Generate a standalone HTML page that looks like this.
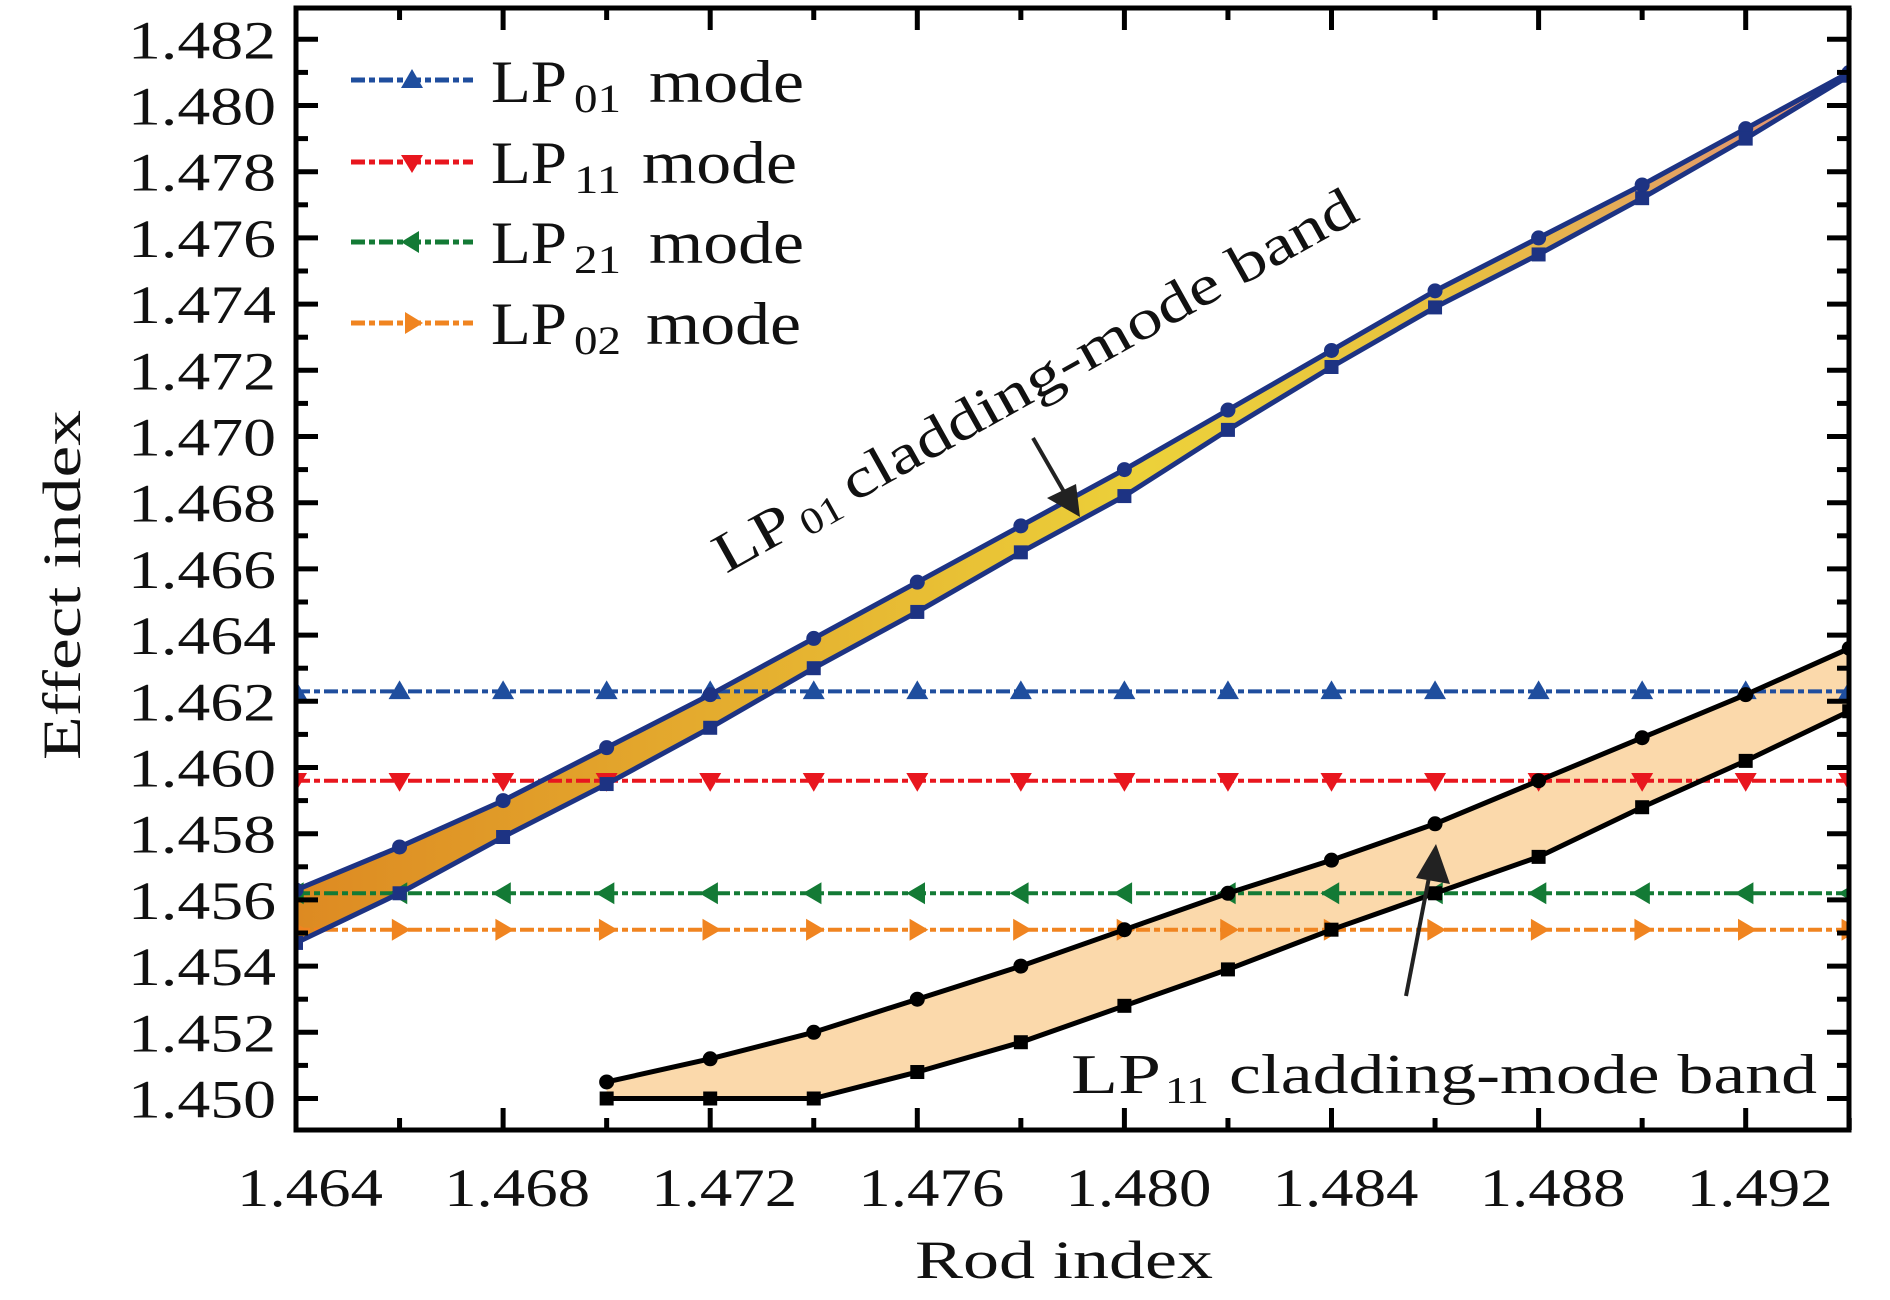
<!DOCTYPE html>
<html><head><meta charset="utf-8">
<style>
html,body{margin:0;padding:0;background:#fff;}
svg{display:block;font-family:"Liberation Serif",serif;}
</style></head>
<body>
<svg id="chart" width="1890" height="1300" viewBox="0 0 1890 1300" xmlns="http://www.w3.org/2000/svg">
<defs>
<linearGradient id="bandGrad" x1="296" y1="0" x2="1849" y2="0" gradientUnits="userSpaceOnUse">
<stop offset="0" stop-color="#dd8a22"/>
<stop offset="0.3" stop-color="#e5b030"/>
<stop offset="0.55" stop-color="#ecd13a"/>
<stop offset="0.75" stop-color="#e8c040"/>
<stop offset="1" stop-color="#e08c7a"/>
</linearGradient>
</defs>
<g id="plot"></g>
</svg>
<script>
const xs = [1.464,1.466,1.468,1.470,1.472,1.474,1.476,1.478,1.480,1.482,1.484,1.486,1.488,1.490,1.492,1.494];
const lp01Upper = [1.4563,1.4576,1.4590,1.4606,1.4622,1.4639,1.4656,1.4673,1.4690,1.4708,1.4726,1.4744,1.4760,1.4776,1.4793,1.4810];
const lp01Lower = [1.4547,1.4562,1.4579,1.4595,1.4612,1.4630,1.4647,1.4665,1.4682,1.4702,1.4721,1.4739,1.4755,1.4772,1.4790,1.4809];
const xs11 = [1.470,1.472,1.474,1.476,1.478,1.480,1.482,1.484,1.486,1.488,1.490,1.492,1.494];
const lp11Upper = [1.4505,1.4512,1.4520,1.4530,1.4540,1.4551,1.4562,1.4572,1.4583,1.4596,1.4609,1.4622,1.4636];
const lp11Lower = [1.4500,1.4500,1.4500,1.4508,1.4517,1.4528,1.4539,1.4551,1.4562,1.4573,1.4588,1.4602,1.4617];
const modeNames = ["LP01","LP11","LP21","LP02"];
const modeValues = [1.4623,1.4596,1.4562,1.4551];
const xTickLabels = ["1.464","1.468","1.472","1.476","1.480","1.484","1.488","1.492"];
const yTickLabels = ["1.450","1.452","1.454","1.456","1.458","1.460","1.462","1.464","1.466","1.468","1.470","1.472","1.474","1.476","1.478","1.480","1.482"];

const L=296,R=1849,T=8,B=1130;
const X0=1.464,XS=207.1/0.004;
const Y0=1.450,Y0px=1098.5,YS=66.2/0.002;
function sx(v){return L+(v-X0)*XS;}
function sy(v){return Y0px-(v-Y0)*YS;}
const NS="http://www.w3.org/2000/svg";
const g=document.getElementById('plot');
function mk(tag,attrs,parent){const e=document.createElementNS(NS,tag);for(const k in attrs)e.setAttribute(k,attrs[k]);(parent||g).appendChild(e);return e;}

const clip=mk('clipPath',{id:'pc'});mk('rect',{x:L,y:T,width:R-L,height:B-T},clip);
const pg=mk('g',{'clip-path':'url(#pc)'});

let pts=xs.map((x,i)=>sx(x)+','+sy(lp01Upper[i])).concat(xs.map((x,i)=>sx(x)+','+sy(lp01Lower[i])).reverse());
let f1=mk('polygon',{points:pts.join(' '),fill:'url(#bandGrad)'},pg);


pts=xs11.map((x,i)=>sx(x)+','+sy(lp11Upper[i])).concat(xs11.map((x,i)=>sx(x)+','+sy(lp11Lower[i])).reverse());
let f2=mk('polygon',{points:pts.join(' '),fill:'#fbd9ab'},pg);



const modeColors=['#1f4e9e','#e8161e','#137a35','#f08420'];
function marker(kind,x,y,c,parent){
  const s=11;let p;
  if(kind==0)p=`${x},${y-s} ${x-s},${y+s*0.7} ${x+s},${y+s*0.7}`;
  if(kind==1)p=`${x},${y+s} ${x-s},${y-s*0.7} ${x+s},${y-s*0.7}`;
  if(kind==2)p=`${x-s},${y} ${x+s*0.7},${y-s} ${x+s*0.7},${y+s}`;
  if(kind==3)p=`${x+s},${y} ${x-s*0.7},${y-s} ${x-s*0.7},${y+s}`;
  return mk('polygon',{points:p,fill:c},parent);
}
modeValues.forEach((v,k)=>{
  const ln=mk('line',{x1:L,x2:R,y1:sy(v),y2:sy(v),stroke:modeColors[k],'stroke-width':4,'stroke-dasharray':'14,4,6,4'},pg);
  
  
  xs.forEach(x=>{const m=marker(k,sx(x),sy(v),modeColors[k],pg);
    
    });
});

function series(xa,ya,color,shape,name){
  const pl=mk('polyline',{points:xa.map((x,i)=>sx(x)+','+sy(ya[i])).join(' '),fill:'none',stroke:color,'stroke-width':5,'stroke-linejoin':'round'},pg);
  
  
  xa.forEach((x,i)=>{let m;
    if(shape=='c')m=mk('circle',{cx:sx(x),cy:sy(ya[i]),r:7.5,fill:color},pg);
    else m=mk('rect',{x:sx(x)-7,y:sy(ya[i])-7,width:14,height:14,fill:color},pg);
    
    });
}
series(xs,lp01Upper,'#1d3383','c','lp01-band-upper');
series(xs,lp01Lower,'#1d3383','s','lp01-band-lower');
series(xs11,lp11Upper,'#000','c','lp11-band-upper');
series(xs11,lp11Lower,'#000','s','lp11-band-lower');

const fr=mk('rect',{x:L,y:T,width:R-L,height:B-T,fill:'none',stroke:'#000','stroke-width':5});



for(let i=0;i<=15;i++){
  const x=sx(X0+i*0.002), len=(i%2==0)?22:12;
  mk('line',{x1:x,x2:x,y1:B,y2:B-len,stroke:'#000','stroke-width':5});
  mk('line',{x1:x,x2:x,y1:T,y2:T+len,stroke:'#000','stroke-width':5});
}
for(let i=-1;i<=33;i++){
  const y=sy(Y0+i*0.001); if(y<T+3||y>B-3)continue;
  const len=(i%2==0)?22:12;
  mk('line',{x1:L,x2:L+len,y1:y,y2:y,stroke:'#000','stroke-width':5});
  mk('line',{x1:R,x2:R-len,y1:y,y2:y,stroke:'#000','stroke-width':5});
}
xTickLabels.forEach((t,i)=>{
  const e=mk('text',{x:sx(parseFloat(t))+14,y:1206,'font-size':54,'text-anchor':'middle',fill:'#111',textLength:146,lengthAdjust:'spacingAndGlyphs'});e.textContent=t;
  
  
});
yTickLabels.forEach((t,i)=>{
  const e=mk('text',{x:276,y:sy(parseFloat(t))+19,'font-size':54,'text-anchor':'end',fill:'#111',textLength:148,lengthAdjust:'spacingAndGlyphs'});e.textContent=t;
  
  
});
</script>
<svg style="position:absolute;left:0;top:0" width="1890" height="1300" font-family="Liberation Serif, serif">
<text x="1064" y="1278" font-size="54" text-anchor="middle" fill="#111" textLength="298" lengthAdjust="spacingAndGlyphs">Rod index</text>
<text transform="translate(80,585) rotate(-90)" font-size="54" text-anchor="middle" fill="#111" textLength="350" lengthAdjust="spacingAndGlyphs">Effect index</text>
<g font-size="60" fill="#111">
 <g>
  <line x1="351" x2="473" y1="80" y2="80" stroke="#1f4e9e" stroke-width="5" stroke-dasharray="14,4,6,4"/>
  <polygon points="412,69 401,88 423,88" fill="#1f4e9e"/>
  <text x="491" y="102" textLength="76" lengthAdjust="spacingAndGlyphs">LP</text>
  <text x="574" y="112" font-size="40" textLength="47" lengthAdjust="spacingAndGlyphs">01</text>
  <text x="649" y="102" textLength="155" lengthAdjust="spacingAndGlyphs">mode</text>
 </g>
 <g>
  <line x1="351" x2="473" y1="162" y2="162" stroke="#e8161e" stroke-width="5" stroke-dasharray="14,4,6,4"/>
  <polygon points="412,173 401,155 423,155" fill="#e8161e"/>
  <text x="491" y="183" textLength="76" lengthAdjust="spacingAndGlyphs">LP</text>
  <text x="574" y="193" font-size="40" textLength="47" lengthAdjust="spacingAndGlyphs">11</text>
  <text x="642" y="183" textLength="155" lengthAdjust="spacingAndGlyphs">mode</text>
 </g>
 <g>
  <line x1="351" x2="473" y1="242" y2="242" stroke="#137a35" stroke-width="5" stroke-dasharray="14,4,6,4"/>
  <polygon points="401,242 419,231 419,253" fill="#137a35"/>
  <text x="491" y="263" textLength="76" lengthAdjust="spacingAndGlyphs">LP</text>
  <text x="574" y="273" font-size="40" textLength="47" lengthAdjust="spacingAndGlyphs">21</text>
  <text x="649" y="263" textLength="155" lengthAdjust="spacingAndGlyphs">mode</text>
 </g>
 <g>
  <line x1="351" x2="473" y1="323" y2="323" stroke="#f08420" stroke-width="5" stroke-dasharray="14,4,6,4"/>
  <polygon points="423,323 405,312 405,334" fill="#f08420"/>
  <text x="491" y="344" textLength="76" lengthAdjust="spacingAndGlyphs">LP</text>
  <text x="574" y="354" font-size="40" textLength="47" lengthAdjust="spacingAndGlyphs">02</text>
  <text x="646" y="344" textLength="155" lengthAdjust="spacingAndGlyphs">mode</text>
 </g>
</g>
<g transform="translate(726,574) rotate(-29.2)" font-size="56" fill="#111">
  <text x="0" y="0" textLength="82" lengthAdjust="spacingAndGlyphs">LP</text>
  <text x="90" y="8" font-size="38" textLength="44" lengthAdjust="spacingAndGlyphs">01</text>
  <text x="146" y="0" textLength="582" lengthAdjust="spacingAndGlyphs">cladding-mode band</text>
</g>
<g>
 <line x1="1033" y1="438" x2="1067" y2="497" stroke="#222" stroke-width="4"/>
 <polygon points="1080,517 1047,498 1076,484" fill="#222"/>
</g>
<g font-size="56" fill="#111">
  <text x="1071" y="1093" textLength="90" lengthAdjust="spacingAndGlyphs">LP</text>
  <text x="1165" y="1103" font-size="38" textLength="44" lengthAdjust="spacingAndGlyphs">11</text>
  <text x="1229" y="1093" textLength="588" lengthAdjust="spacingAndGlyphs">cladding-mode band</text>
</g>
<g>
 <line x1="1406" y1="996" x2="1431" y2="867" stroke="#222" stroke-width="4"/>
 <polygon points="1436,844 1450,884 1416,878" fill="#222"/>
</g>
</svg>
</body></html>
